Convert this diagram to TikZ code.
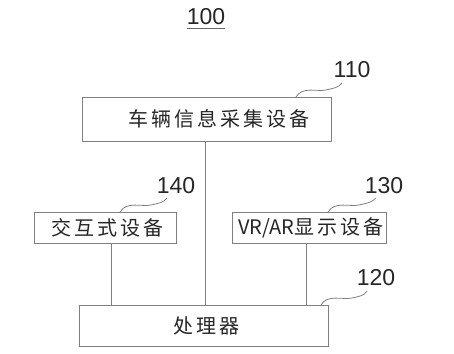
\documentclass[tikz,border=0pt]{standalone}
\usepackage{fontspec}
\setmainfont{Liberation Sans}
\newfontfamily\cjk[LetterSpace=15]{Noto Sans CJK SC}
\newfontfamily\cjkplain{Noto Sans CJK SC}
\begin{document}
\begin{tikzpicture}[x=1pt,y=-1pt,
  boxstyle/.style={draw=black!50,line width=0.8pt,rectangle,inner sep=0pt},
  txt/.style={font=\cjk\fontsize{20}{20}\selectfont,text=black!85,inner sep=0pt},
  num/.style={font=\fontsize{23}{23}\selectfont,text=black!85,inner sep=0pt},
  wire/.style={draw=black!50,line width=0.8pt},
  wave/.style={draw=black!50,line width=0.8pt}]
\useasboundingbox (0,0) rectangle (454,353);
% title
\node[num] (t100) at (206,17) {100};
\draw[black!60,line width=1pt] (t100.south west) ++(0,3) coordinate (u1) -- (u1 -| t100.south east);
% boxes
\node[boxstyle,minimum width=249pt,minimum height=44pt] (b110) at (206.5,119) {};
\node[txt] (x110) at (219,119) {车辆信息采集设备};
\node[boxstyle,minimum width=142pt,minimum height=31pt] (b140) at (105,227.5) {};
\node[txt] (x140) at (107.5,227.5) {交互式设备};
\node[boxstyle,minimum width=154pt,minimum height=31pt] (b130) at (309,227.5) {};
\node[txt] (x130) at (310.5,227.5) {{\cjkplain VR/AR}显示设备};
\node[boxstyle,minimum width=249pt,minimum height=41pt] (b120) at (203.5,325.5) {};
\node[txt] (x120) at (206.5,326) {处理器};
% numbers
\node[num] (n110) at (352,70) {110};
\node[num] (n140) at (176,186) {140};
\node[num] (n130) at (384,186) {130};
\node[num] (n120) at (376,278) {120};
% wave leaders
\coordinate (w110a) at (296,97); \coordinate (w110b) at (342,83);
\draw[wave] (w110a) .. controls (302,86) and (318,92) .. (326,90) .. controls (334,88) and (338,88) .. (w110b);
\coordinate (w140a) at (120,212); \coordinate (w140b) at (167,198);
\draw[wave] (w140a) .. controls (126,201) and (142,207) .. (151,205) .. controls (159,203) and (163,203) .. (w140b);
\coordinate (w130a) at (328,212); \coordinate (w130b) at (376,198);
\draw[wave] (w130a) .. controls (334,201) and (350,207) .. (359,205) .. controls (367,203) and (371,203) .. (w130b);
\coordinate (w120a) at (321,305); \coordinate (w120b) at (367,291);
\draw[wave] (w120a) .. controls (327,294) and (343,300) .. (352,298) .. controls (360,296) and (364,296) .. (w120b);
% connectors
\draw[wire] ([xshift=-1.5pt]b110.south) -- ([xshift=-1.5pt]b110.south |- b120.north);
\draw[wire] ([xshift=6pt]b140.south) -- ([xshift=6pt]b140.south |- b120.north);
\draw[wire] ([xshift=-3pt]b130.south) -- ([xshift=-3pt]b130.south |- b120.north);
\end{tikzpicture}
\end{document}
